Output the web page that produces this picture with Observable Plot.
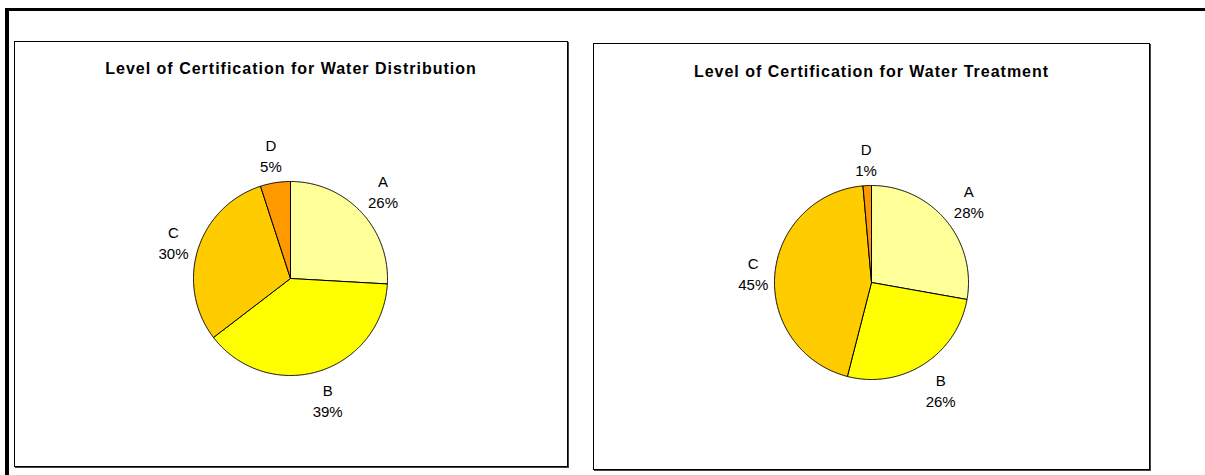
<!DOCTYPE html>
<html><head><meta charset="utf-8">
<script src="https://cdn.jsdelivr.net/npm/d3@7"></script>
<script src="https://cdn.jsdelivr.net/npm/@observablehq/plot@0.6"></script>
<style>
body{margin:0;background:#fff;width:1205px;height:475px;overflow:hidden;position:relative;font-family:Arial,"Liberation Sans",sans-serif;}
#frame{position:absolute;left:5px;top:8px;width:1210px;height:480px;border-top:3px solid #000;border-left:4px solid #000;}
.panel{position:absolute;border:1px solid #000;box-shadow:1px 1px 0 #444;background:#fff;}
.title{position:absolute;left:0;right:0;text-align:center;font-weight:bold;font-size:16px;letter-spacing:1px;line-height:18px;color:#000;z-index:2;}
.panel svg{position:absolute;left:0;top:0;}
</style></head><body>
<div id="frame"></div>
<div id="p1" class="panel" style="left:14px;top:41px;width:552px;height:424px"><div class="title" style="top:18px">Level of Certification for Water Distribution</div></div>
<div id="p2" class="panel" style="left:593px;top:43px;width:555px;height:425px"><div class="title" style="top:19px">Level of Certification for Water Treatment</div></div>
<script>
const categories = ["A", "B", "C", "D"];
const colors = ["#FFFF99", "#FFFF00", "#FFCC00", "#FF9900"];
const distributionValues = [25.9, 38.7, 30.4, 5.0];
const treatmentValues = [27.8, 26.2, 44.6, 1.4];

function pie(values, W, H, cx, cy) {
  const R = 97, PAD = 5, HW = 15, HH = 21;
  const arcs = d3.pie().sort(null).value(d => d)(values);
  const pts = [];
  arcs.forEach((a, i) => {
    const cat = categories[i];
    pts.push({cat, x: 0, y: 0});
    const n = Math.max(2, Math.ceil((a.endAngle - a.startAngle) / (Math.PI / 360)));
    for (let k = 0; k <= n; k++) {
      const t = a.startAngle + (a.endAngle - a.startAngle) * k / n;
      pts.push({cat, x: Math.sin(t), y: Math.cos(t)});
    }
    pts.push({cat, x: 0, y: 0});
  });
  const labels = arcs.map((a, i) => {
    const m = (a.startAngle + a.endAngle) / 2;
    const ux = Math.sin(m), uy = Math.cos(m);
    const d = 1 + (PAD + HW * Math.abs(ux) + HH * Math.abs(uy)) / R;
    return {x: ux * d, y: uy * d, text: categories[i] + "\n" + Math.round(values[i]) + "%"};
  });
  return Plot.plot({
    width: W, height: H, margin: 0,
    x: {domain: [-cx / R, (W - cx) / R], range: [0, W], axis: null},
    y: {domain: [-(H - cy) / R, cy / R], range: [H, 0], axis: null},
    color: {domain: categories, range: colors},
    style: {fontFamily: 'Arial, "Liberation Sans", sans-serif', background: "transparent", overflow: "visible"},
    marks: [
      Plot.line(pts, {x: "x", y: "y", z: "cat", fill: "cat", stroke: "#000", strokeWidth: 1, strokeLinejoin: "round"}),
      Plot.text(labels, {x: "x", y: "y", text: "text", fontSize: 15, lineHeight: 1.4, fill: "#000"})
    ]
  });
}

document.getElementById("p1").appendChild(pie(distributionValues, 552, 424, 275, 236));
document.getElementById("p2").appendChild(pie(treatmentValues, 555, 425, 277, 238));
</script>
</body></html>
